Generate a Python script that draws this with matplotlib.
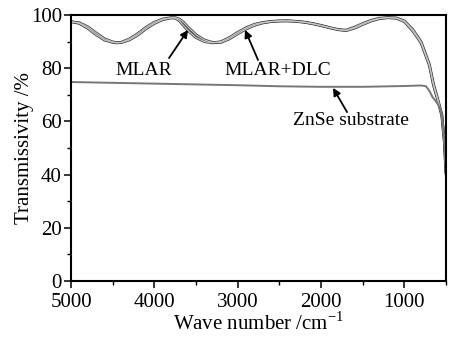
import matplotlib.pyplot as plt
from matplotlib.ticker import MultipleLocator

plt.rcParams["font.family"] = ["Liberation Serif", "DejaVu Serif"]
plt.rcParams["mathtext.fontset"] = "custom"
plt.rcParams["mathtext.rm"] = "Liberation Serif"

# wavenumber grid (cm^-1) and transmissivity (%)
wave = [5000, 4900, 4800, 4700, 4600, 4500, 4450, 4400, 4300, 4200, 4100,
        4000, 3900, 3800, 3750, 3700, 3650, 3600, 3500, 3400, 3300, 3200,
        3100, 3000, 2900, 2800, 2700, 2600, 2500, 2400, 2300, 2200, 2100,
        2000, 1900, 1800, 1700, 1600, 1500, 1400, 1300, 1200, 1100, 1000,
        900, 800, 700, 650, 600, 550, 520, 500]

mlar = [97.6, 96.8, 95.0, 92.6, 90.6, 89.7, 89.5, 89.7, 91.0, 93.0, 95.4,
        97.3, 98.5, 99.0, 98.8, 97.8, 96.0, 94.2, 91.5, 90.0, 89.5, 90.0,
        91.5, 93.5, 95.2, 96.5, 97.2, 97.6, 97.8, 97.8, 97.6, 97.3, 96.8,
        96.1, 95.3, 94.6, 94.3, 95.4, 96.8, 98.0, 98.8, 99.0, 98.8, 97.5,
        94.0, 89.5, 81.0, 73.5, 68.0, 62.0, 52.0, 40.0]

mlar_dlc = [97.4, 97.1, 95.6, 93.3, 91.1, 89.9, 89.6, 89.6, 90.6, 92.4, 94.8,
            96.8, 98.2, 98.9, 99.0, 98.5, 97.3, 95.6, 92.6, 90.6, 89.7, 89.7,
            91.0, 92.9, 94.7, 96.1, 97.0, 97.5, 97.7, 97.8, 97.6, 97.3, 96.7,
            96.0, 95.2, 94.5, 94.1, 95.0, 96.4, 97.7, 98.6, 99.0, 98.9, 97.8,
            94.6, 90.0, 81.5, 74.0, 68.5, 62.5, 52.5, 40.5]

wave_znse = [5000, 4500, 4000, 3500, 3000, 2500, 2000, 1500, 1000, 800,
             740, 700, 660, 620, 580, 550, 520, 500]
znse = [74.8, 74.5, 74.2, 73.9, 73.6, 73.2, 73.0, 73.0, 73.3, 73.5,
        73.2, 71.5, 69.0, 67.5, 65.5, 62.5, 53.0, 41.0]

fig = plt.figure(figsize=(4.57, 3.37), dpi=100)
ax = fig.add_axes([0.1554, 0.1662, 0.8206, 0.7893])

for y in [mlar, mlar_dlc]:
    ax.plot(wave, y, color="#4a4a4a", lw=2.0, solid_capstyle="round")
for y in [mlar, mlar_dlc]:
    ax.plot(wave, y, color="#c8c8c8", lw=0.8)
ax.plot(wave_znse, znse, color="#777777", lw=1.4)

ax.set_xlim(5000, 500)
ax.set_ylim(0, 100)
ax.xaxis.set_major_locator(MultipleLocator(1000))
ax.xaxis.set_minor_locator(MultipleLocator(500))
ax.yaxis.set_major_locator(MultipleLocator(20))
ax.yaxis.set_minor_locator(MultipleLocator(10))
ax.tick_params(which="major", direction="out", length=5, width=1.1,
               labelsize=15, pad=1.5)
ax.tick_params(axis="x", which="major", pad=3.5)
ax.tick_params(which="minor", direction="out", length=3, width=1.0)
ax.tick_params(top=False, right=False, which="both")
for s in ax.spines.values():
    s.set_linewidth(1.5)

ax.set_xlabel("Wave number /cm$^{-1}$", fontsize=15, labelpad=0)
ax.set_ylabel("Transmissivity /%", fontsize=15, labelpad=-2)

arrow = dict(arrowstyle="-|>", color="black", lw=1.3, mutation_scale=11,
             shrinkA=0, shrinkB=0)
ax.annotate("", xy=(3596, 94.4), xytext=(3824, 83.8), arrowprops=arrow)
ax.annotate("", xy=(2912, 94.4), xytext=(2756, 83.1), arrowprops=arrow)
ax.annotate("", xy=(1856, 72.6), xytext=(1688, 63.5), arrowprops=arrow)

ax.text(4124, 79.3, "MLAR", fontsize=14, ha="center", va="center")
ax.text(2516, 79.3, "MLAR+DLC", fontsize=14, ha="center", va="center")
ax.text(1640, 60.3, "ZnSe substrate", fontsize=14, ha="center", va="center")

plt.savefig("out.png", dpi=100)
